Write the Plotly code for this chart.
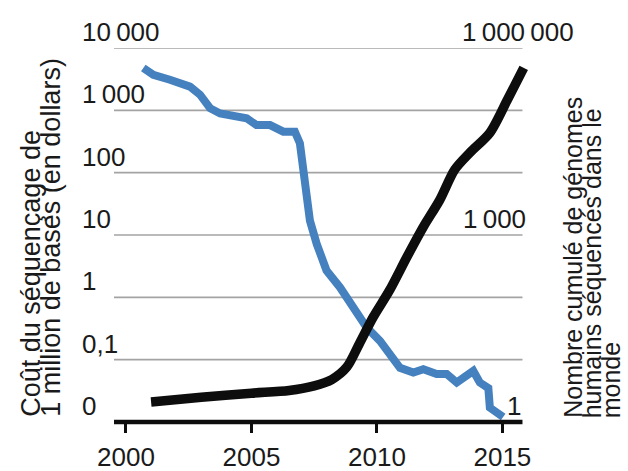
import plotly.graph_objects as go
import math

# ---- data ----
cost_years = [2000.69, 2001.09, 2001.75, 2002.55, 2002.95, 2003.35, 2003.75, 2004.41, 2004.81,
              2005.2, 2005.74, 2006.27, 2006.73, 2006.93, 2007.13, 2007.26, 2007.33, 2007.6,
              2007.99, 2008.53, 2009.06, 2009.59, 2010.12, 2010.52, 2010.92, 2011.45, 2011.85,
              2012.38, 2012.78, 2013.18, 2013.44, 2013.84, 2014.1, 2014.44, 2014.5, 2014.77, 2015.03]
cost_values = [4770, 3700, 3100, 2400, 1780, 1080, 890, 790, 745,
               580, 580, 455, 455, 296, 85, 36, 17, 7.2,
               2.7, 1.44, 0.69, 0.33, 0.20, 0.123, 0.074, 0.062, 0.070,
               0.059, 0.059, 0.043, 0.051, 0.066, 0.043, 0.035, 0.017, 0.014, 0.012]

genome_years = [2001.0, 2003.0, 2005.0, 2006.5, 2007.5, 2008.2, 2008.8, 2009.3, 2009.85,
                2010.5, 2011.2, 2011.85, 2012.5, 2013.1, 2013.7, 2014.5, 2015.2, 2015.85]
genome_values = [2.1, 2.5, 2.9, 3.2, 3.8, 4.8, 7.6, 18, 48,
                 129, 447, 1350, 3630, 11200, 20900, 43600, 148000, 479000]

x_tick_vals = [2000, 2005, 2010, 2015]
x_tick_text = ["2000", "2005", "2010", "2015"]
left_tick_vals = [0.01, 0.1, 1, 10, 100, 1000, 10000]
left_tick_text = ["0", "0,1", "1", "10", "100", "1\u2009000", "10\u2009000"]
right_tick_vals = [1, 1000, 1000000]
right_tick_text = ["1", "1\u2009000", "1\u2009000\u2009000"]

left_title = ["Coût du séquençage de", "1 million de bases (en dollars)"]
right_title = ["Nombre cumulé de génomes", "humains séquencés dans le", "monde"]

# ---- style ----
NUM_FONT = dict(family="Liberation Sans, Arial, sans-serif", size=26, color="#1a1a1a")
LEFT_TITLE_FONT = dict(family="Liberation Sans, Arial, sans-serif", size=27, color="#1a1a1a")
RIGHT_TITLE_FONT = dict(family="Liberation Sans, Arial, sans-serif", size=25, color="#1a1a1a")
PLOT_L, PLOT_B = 114, 421.7
X0, X1 = 1999.522, 2016.1
GRID_END = 2015.8

fig = go.Figure()
fig.add_trace(go.Scatter(x=cost_years, y=cost_values, mode="lines",
                         line=dict(color="#4581bf", width=8), yaxis="y", showlegend=False))
fig.add_trace(go.Scatter(x=genome_years, y=genome_values, mode="lines",
                         line=dict(color="#0d0d0d", width=9.5, shape="spline", smoothing=0.8),
                         yaxis="y2", showlegend=False))

shapes = []
for v in left_tick_vals[1:]:
    shapes.append(dict(type="line", xref="x", yref="y", x0=X0, x1=GRID_END,
                       y0=v, y1=v, line=dict(color="#a3a3a3", width=1.6), layer="below"))
shapes.append(dict(type="line", xref="x", yref="paper", x0=X0, x1=GRID_END,
                   y0=0, y1=0, line=dict(color="#0d0d0d", width=4.5), layer="above"))

annotations = []
for v, t in zip(left_tick_vals, left_tick_text):
    annotations.append(dict(xref="paper", x=0, xshift=-34, xanchor="left",
                            yref="y", y=math.log10(v), yanchor="middle", yshift=16,
                            text=t, showarrow=False, font=NUM_FONT))
right_xshift = [409, 414, 462]
for v, t, xs in zip(right_tick_vals, right_tick_text, right_xshift):
    annotations.append(dict(xref="paper", x=0, xshift=xs, xanchor="right",
                            yref="y2", y=math.log10(v), yanchor="middle", yshift=16,
                            text=t, showarrow=False, font=NUM_FONT))

left_title_x = [31, 51]
for t, px in zip(left_title, left_title_x):
    annotations.append(dict(xref="paper", x=0, xshift=px - PLOT_L, xanchor="center",
                            yref="paper", y=0, yshift=PLOT_B - 419, yanchor="bottom",
                            text=t, textangle=-90, showarrow=False, font=LEFT_TITLE_FONT))
right_title_x = [573, 592, 611]
for t, px in zip(right_title, right_title_x):
    annotations.append(dict(xref="paper", x=0, xshift=px - PLOT_L, xanchor="center",
                            yref="paper", y=0, yshift=PLOT_B - 420, yanchor="bottom",
                            text=t, textangle=-90, showarrow=False, font=RIGHT_TITLE_FONT))

fig.update_layout(
    width=628, height=471,
    margin=dict(l=PLOT_L, r=628 - (126 + (X1 - 2000) * 25.1), t=48.3, b=471 - PLOT_B, pad=0),
    paper_bgcolor="white", plot_bgcolor="white",
    xaxis=dict(range=[X0, X1], tickvals=x_tick_vals, ticktext=x_tick_text,
               ticks="outside", ticklen=10, tickwidth=2.5, tickcolor="#0d0d0d",
               ticklabelstandoff=2, automargin=False,
               showgrid=False, zeroline=False, showline=False, tickfont=NUM_FONT),
    yaxis=dict(type="log", range=[-2, 4], showgrid=False, zeroline=False,
               showticklabels=False, ticks="", automargin=False),
    yaxis2=dict(type="log", range=[0, 6], overlaying="y", side="right", showgrid=False,
                zeroline=False, showticklabels=False, ticks="", automargin=False),
    shapes=shapes, annotations=annotations,
)
fig.write_html("out.html", config={"displayModeBar": False},
               post_script="document.body.style.margin='0';document.body.style.overflow='hidden';")
